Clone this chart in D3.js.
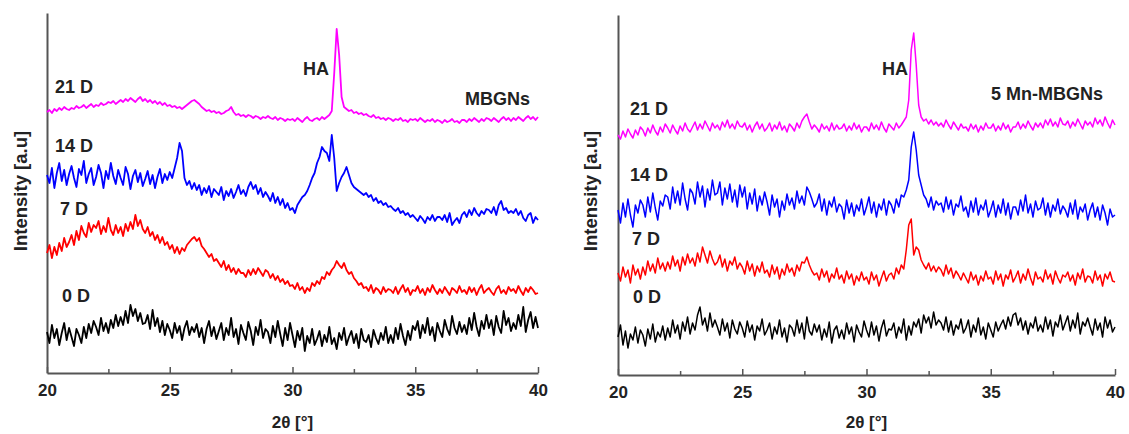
<!DOCTYPE html>
<html>
<head>
<meta charset="utf-8">
<script src="https://cdn.jsdelivr.net/npm/d3@7"></script>
<style>
  body { margin: 0; background: #fff; }
  svg { display: block; font-family: "Liberation Sans", Arial, sans-serif; }
</style>
</head>
<body>
<div id="chart"></div>
<script>
// 2theta measurement grid, 0.1 degree step
const twoTheta = d3.range(0, 201).map(i => +(20 + i * 0.1).toFixed(1));

const xTicks = [20, 25, 30, 35, 40];
const xMinorTicks = [22.5, 27.5, 32.5, 37.5];
const dayLabels = ["0 D", "7 D", "14 D", "21 D"];
const dayColors = ["#000000", "#ff0000", "#0000ff", "#ff00ff"];

// MBGNs (intensity, a.u., stacked)
const mbgn21 = [
  261,263,260,264,262,265,263,266,264,263,
  265,264,267,265,266,268,265,267,269,266,
  268,267,270,268,269,271,270,272,269,271,
  273,271,274,272,275,273,271,274,276,272,
  274,271,273,270,272,269,271,268,270,267,
  268,266,267,265,266,264,266,268,270,272,
  273,271,269,266,264,262,263,261,262,260,
  261,259,260,262,263,266,261,258,259,257,
  258,256,258,257,255,257,256,254,256,255,
  257,255,254,256,253,255,254,252,254,253,
  254,252,255,253,251,254,256,253,252,254,
  255,253,256,254,256,258,262,300,344,318,
  276,266,264,262,263,260,261,259,260,258,
  259,257,256,258,255,256,254,255,253,255,
  254,252,254,253,255,252,253,251,254,253,
  254,252,255,253,251,253,252,254,251,253,
  252,250,253,251,252,254,251,252,250,253,
  253,251,254,252,255,253,251,254,252,255,
  254,252,255,253,251,254,256,253,255,252,
  255,253,256,254,252,255,257,254,256,253,
  256
];
const mbgn14 = [
  198,190,205,185,200,210,192,203,188,199,
  207,195,186,204,198,212,190,199,205,188,
  196,208,200,185,202,194,210,197,189,203,
  195,188,206,199,184,197,203,191,200,187,
  194,202,189,198,185,196,204,190,199,193,
  201,195,205,215,230,222,195,188,192,184,
  190,183,188,178,185,180,187,176,184,181,
  178,186,173,182,177,184,175,181,188,179,
  183,177,186,191,184,188,179,185,176,181,
  177,172,180,170,176,168,174,165,170,163,
  165,160,168,172,176,178,182,188,195,200,
  210,216,226,222,220,212,238,215,182,190,
  196,200,206,198,190,186,184,182,180,178,
  180,176,178,172,175,170,172,168,170,166,
  167,164,162,165,160,162,158,160,156,158,
  155,152,157,154,150,156,153,158,152,156,
  156,153,158,151,160,148,152,155,150,158,
  161,156,163,158,165,160,157,162,159,164,
  163,160,166,158,168,172,163,165,160,162,
  160,164,158,162,155,152,158,160,150,156,
  153
];
const mbgn7 = [
  120,128,115,126,118,130,122,135,126,131,
  138,128,142,133,147,140,136,150,141,148,
  145,152,139,147,141,155,143,138,148,140,
  146,137,149,142,151,144,158,147,153,144,
  140,146,137,141,133,138,130,136,128,131,
  124,128,120,126,119,125,122,128,131,134,
  136,132,135,127,124,120,116,119,112,114,
  110,106,112,103,108,101,105,99,104,100,
  100,96,103,98,104,99,105,101,97,103,
  101,95,99,93,97,91,94,89,92,87,
  88,84,90,83,86,80,85,82,90,87,
  92,89,96,94,101,98,103,106,112,108,
  105,110,103,99,101,95,92,88,90,85,
  86,82,88,80,85,83,79,86,81,84,
  83,80,86,79,84,88,81,85,78,83,
  82,87,80,84,78,85,81,88,83,79,
  84,80,86,82,78,85,83,80,87,81,
  83,79,86,81,85,78,84,88,80,83,
  85,81,78,84,87,80,83,79,86,82,
  84,80,87,82,78,85,81,86,83,79,
  80
];
const mbgn0 = [
  41,30,48,35,44,28,40,50,33,45,
  36,27,44,38,30,46,35,49,40,52,
  46,38,55,42,50,40,53,45,58,47,
  56,48,62,50,68,57,64,52,60,49,
  50,58,44,63,47,55,41,52,38,49,
  43,35,50,40,47,33,45,52,38,46,
  41,49,36,45,30,44,52,37,46,34,
  42,50,33,45,38,55,36,44,29,48,
  40,33,51,42,28,46,38,53,35,44,
  41,30,47,36,52,39,27,45,33,50,
  38,26,42,33,45,22,37,30,44,28,
  34,42,27,38,31,46,29,35,24,40,
  33,45,28,36,42,30,39,25,44,33,
  31,38,26,43,35,29,40,33,46,30,
  38,30,45,34,49,37,28,42,33,47,
  43,52,35,48,40,55,38,46,32,50,
  42,36,53,44,38,57,45,39,51,41,
  48,39,55,43,60,46,37,52,44,58,
  45,53,38,57,46,40,62,48,55,42,
  50,44,58,47,66,41,53,61,45,56,
  45
];

// 5 Mn-MBGNs (intensity, a.u., stacked)
const mn21 = [
  240,236,244,238,246,241,237,245,240,248,
  245,239,247,242,250,244,240,248,243,251,
  247,242,250,245,241,249,244,252,246,243,
  248,253,245,251,246,254,249,244,252,247,
  250,245,253,248,255,247,251,246,254,249,
  248,252,245,250,243,249,253,246,251,244,
  247,252,244,250,246,253,245,249,243,251,
  248,244,252,247,254,258,261,253,246,250,
  247,243,251,246,249,244,252,245,250,246,
  247,251,244,249,245,252,246,250,243,248,
  248,244,252,246,250,245,253,247,243,251,
  248,245,252,247,250,254,258,275,325,342,
  310,270,258,254,256,251,255,250,253,249,
  252,248,255,250,246,253,249,245,251,247,
  248,244,251,246,250,243,249,245,252,247,
  247,251,244,249,245,252,246,250,243,248,
  248,253,246,251,247,254,249,245,252,248,
  252,247,255,250,256,249,253,248,257,251,
  250,254,247,253,249,256,251,246,254,250,
  253,248,257,251,255,249,258,252,247,255,
  250
];
const mn14 = [
  165,152,172,158,176,160,148,170,162,175,
  170,158,178,163,182,167,155,174,169,180,
  178,166,188,172,184,170,192,176,165,186,
  182,171,193,178,189,168,186,175,195,180,
  182,193,170,187,176,191,173,185,168,190,
  178,188,166,182,171,186,164,179,170,183,
  173,160,180,168,176,158,174,165,181,170,
  177,166,184,172,179,170,188,183,176,168,
  172,181,164,176,160,174,168,178,163,171,
  168,156,175,162,172,159,170,164,176,160,
  168,178,162,173,158,171,165,176,160,174,
  170,162,176,168,180,178,185,195,228,243,
  225,200,190,180,176,168,178,165,174,170,
  172,163,178,166,175,160,171,168,179,164,
  168,158,174,163,177,160,170,165,175,158,
  165,174,158,170,162,176,160,172,156,168,
  168,160,175,164,180,162,171,158,174,165,
  167,177,160,172,158,170,164,176,161,169,
  165,158,172,161,175,156,168,163,171,155,
  165,172,158,168,155,170,162,150,166,158,
  160
];
const mn7 = [
  102,94,108,98,105,92,110,100,106,96,
  108,100,114,104,111,102,117,106,112,104,
  113,106,119,109,115,104,118,110,121,112,
  117,109,122,113,128,120,112,124,116,110,
  113,120,108,116,104,114,110,118,106,112,
  108,101,114,104,111,99,109,103,113,102,
  105,98,110,101,108,96,106,100,111,103,
  107,99,110,104,113,112,118,110,104,100,
  102,95,106,98,104,93,101,97,107,96,
  100,92,104,96,101,90,99,94,103,95,
  98,91,103,95,100,89,97,104,94,100,
  102,96,107,101,110,106,125,150,156,120,
  128,125,115,110,106,112,104,109,103,108,
  105,99,110,101,107,97,104,100,95,102,
  97,92,103,95,100,90,99,94,104,96,
  98,91,104,95,101,89,100,96,105,93,
  98,104,92,101,95,106,97,90,103,96,
  98,93,105,96,101,91,104,97,92,100,
  98,103,94,100,90,102,96,106,93,99,
  98,92,104,95,100,89,101,96,103,94,
  93
];
const mn0 = [
  38,50,30,44,27,41,35,48,32,45,
  40,29,46,36,51,33,43,38,49,35,
  47,38,55,42,50,36,53,44,58,41,
  52,45,60,68,50,57,44,62,48,55,
  48,40,56,44,52,37,55,46,41,53,
  47,38,54,43,50,35,49,44,56,40,
  45,52,36,48,41,55,38,47,33,50,
  47,39,55,42,52,36,58,44,40,51,
  43,50,35,46,38,53,32,45,49,37,
  45,36,52,41,48,33,50,43,38,54,
  45,38,53,40,49,34,47,55,39,46,
  45,52,37,48,42,56,35,49,40,53,
  48,56,42,60,52,58,47,63,50,55,
  52,45,58,43,54,40,50,46,56,42,
  47,55,38,50,43,57,40,48,36,52,
  45,38,53,44,50,55,46,58,49,60,
  62,50,57,45,54,41,52,47,58,44,
  50,43,58,46,55,39,53,48,60,45,
  52,59,44,55,47,62,41,53,49,57,
  48,40,56,45,52,38,58,47,55,43,
  48
];

class XrdPanel {

    constructor(svg, opts) {
        this.svg = svg;
        this.opts = opts;
        this.initVis();
    }

    initVis() {
        let vis = this;
        let o = vis.opts;

        vis.g = vis.svg.append("g");

        vis.x = d3.scaleLinear().domain([20, 40]).range([o.left, o.right]);
        vis.y = d3.scaleLinear().domain([0, 360]).range([o.bottom, o.bottom - 360]);

        // major ticks (pointing inward) with labels
        vis.xAxis = d3.axisBottom(vis.x)
            .tickValues(xTicks)
            .tickSizeInner(-6)
            .tickSizeOuter(0)
            .tickPadding(11)
            .tickFormat(d3.format("d"));

        let gx = vis.g.append("g")
            .attr("transform", `translate(0, ${o.bottom})`)
            .call(vis.xAxis);
        gx.select(".domain").attr("stroke", "#555").attr("stroke-width", 2);
        gx.selectAll(".tick line").attr("stroke", "#555").attr("stroke-width", 1.5);
        gx.selectAll(".tick text")
            .style("font-size", "17px")
            .style("font-weight", "bold")
            .attr("fill", "#222");

        // minor ticks
        let gm = vis.g.append("g")
            .attr("transform", `translate(0, ${o.bottom})`)
            .call(d3.axisBottom(vis.x).tickValues(xMinorTicks).tickSize(-4).tickFormat(""));
        gm.select(".domain").remove();
        gm.selectAll(".tick line").attr("stroke", "#555").attr("stroke-width", 1.5);

        // y axis, no ticks
        let gy = vis.g.append("g")
            .attr("transform", `translate(${o.left}, 0)`)
            .call(d3.axisLeft(vis.y).tickValues([]).tickSizeOuter(0));
        gy.select(".domain").attr("stroke", "#555").attr("stroke-width", 2);

        vis.g.append("text")
            .attr("x", (o.left + o.right) / 2)
            .attr("y", 428)
            .attr("text-anchor", "middle")
            .style("font-size", "17px")
            .style("font-weight", "bold")
            .attr("fill", "#222")
            .text("2θ [°]");

        vis.g.append("text")
            .attr("transform", `translate(${o.yLabelX}, ${o.yLabelY}) rotate(-90)`)
            .attr("text-anchor", "middle")
            .style("font-size", "18.5px")
            .style("font-weight", "bold")
            .attr("fill", "#222")
            .text("Intensity [a.u]");

        vis.line = d3.line()
            .x((d, i) => vis.x(twoTheta[i]))
            .y(d => vis.y(d));

        vis.g.selectAll(".trace")
            .data(o.series)
            .enter()
            .append("path")
            .attr("class", "trace")
            .attr("d", d => vis.line(d))
            .attr("fill", "none")
            .attr("stroke", (d, i) => dayColors[i])
            .attr("stroke-width", o.strokeWidth)
            .attr("stroke-linejoin", "round");

        vis.g.selectAll(".day-label")
            .data(dayLabels)
            .enter()
            .append("text")
            .attr("class", "day-label")
            .attr("x", (d, i) => o.labelPos[i][0])
            .attr("y", (d, i) => o.labelPos[i][1])
            .style("font-size", "18px")
            .style("font-weight", "bold")
            .attr("fill", "#222")
            .text(d => d);

        vis.g.append("text")
            .attr("x", o.haPos[0])
            .attr("y", o.haPos[1])
            .style("font-size", "18px")
            .style("font-weight", "bold")
            .attr("fill", "#222")
            .text("HA");

        vis.g.append("text")
            .attr("x", o.namePos[0])
            .attr("y", o.namePos[1])
            .attr("text-anchor", "end")
            .style("font-size", "18px")
            .style("font-weight", "bold")
            .attr("fill", "#222")
            .text(o.name);
    }
}

const svg = d3.select("#chart").append("svg")
    .attr("width", 1129)
    .attr("height", 434);

new XrdPanel(svg, {
    left: 47, right: 538, bottom: 373,
    series: [mbgn0, mbgn7, mbgn14, mbgn21],
    strokeWidth: 1.8,
    labelPos: [[62, 302], [60, 215], [55, 152], [55, 93]],
    haPos: [303, 75],
    name: "MBGNs", namePos: [530, 105],
    yLabelX: 27, yLabelY: 191
});

new XrdPanel(svg, {
    left: 618, right: 1115, bottom: 375,
    series: [mn0, mn7, mn14, mn21],
    strokeWidth: 1.5,
    labelPos: [[633, 303], [632, 245], [630, 181], [630, 115]],
    haPos: [882, 75],
    name: "5 Mn-MBGNs", namePos: [1103, 100],
    yLabelX: 597, yLabelY: 191
});
</script>
</body>
</html>
